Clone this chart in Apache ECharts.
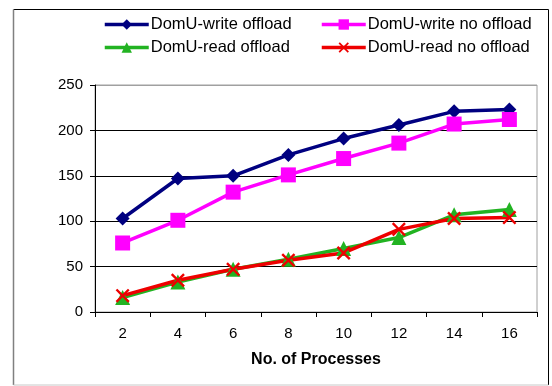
<!DOCTYPE html>
<html><head><meta charset="utf-8">
<script src="https://cdn.jsdelivr.net/npm/echarts@6/dist/echarts.min.js"></script>
<style>html,body{margin:0;padding:0;background:#fff}#c{width:552px;height:386px}</style>
</head><body><div id="c"></div>
<script>
const categories = ['2','4','6','8','10','12','14','16'];
const writeOffload = [103, 147, 150, 173, 191, 206, 221, 223];
const writeNoOffload = [76, 101, 132, 151, 169, 186, 207, 212];
const readOffload = [16, 33, 47, 58, 70, 82, 107, 113];
const readNoOffload = [18, 35, 47, 57, 65, 91, 103, 104];
const yTicks = [0, 50, 100, 150, 200, 250];
const names = ['DomU-write offload','DomU-write no offload','DomU-read offload','DomU-read no offload'];

const crossPath = 'path://M0,1.2L1.2,0L5,3.8L8.8,0L10,1.2L6.2,5L10,8.8L8.8,10L5,6.2L1.2,10L0,8.8L3.8,5Z';
const font = 'Liberation Sans, Arial, sans-serif';
const chart = echarts.init(document.getElementById('c'), null, {renderer:'canvas'});
function mkSeries(name, data, color, symbol, size){
  return {name, type:'line', data, symbol, symbolSize:size, showAllSymbol:true,
    lineStyle:{color, width:3.5}, itemStyle:{color, borderWidth:0}, animation:false};
}
function mkLegend(name, left, top){
  return {data:[name], left, top, itemWidth:44, itemHeight:13, itemGap:0,
    lineStyle:{width:3.5},
    textStyle:{fontFamily:font, fontSize:16.5, color:'#000', padding:[0,0,0,-3]}};
}
chart.setOption({
  backgroundColor:'#fff',
  animation:false,
  graphic:[
    {type:'line', shape:{x1:13.5,y1:9.5,x2:548.5,y2:9.5}, style:{stroke:'#000', lineWidth:1}, silent:true},
    {type:'line', shape:{x1:548.5,y1:9.5,x2:548.5,y2:385}, style:{stroke:'#000', lineWidth:1}, silent:true},
    {type:'line', shape:{x1:13.5,y1:9.5,x2:13.5,y2:385}, style:{stroke:'#808080', lineWidth:1.5}, silent:true},
    {type:'line', shape:{x1:13.5,y1:385,x2:548.5,y2:385}, style:{stroke:'#c8c8c8', lineWidth:1}, silent:true}
  ],
  legend:[mkLegend(names[0],98,11), mkLegend(names[1],315,11), mkLegend(names[2],98,34), mkLegend(names[3],315,34)],
  grid:{left:95, right:15, top:85, bottom:74, show:true, borderColor:'#a0a0a0', borderWidth:1},
  xAxis:{type:'category', data:categories, boundaryGap:true,
    axisLine:{lineStyle:{color:'#000', width:1}},
    axisTick:{show:true, length:5, lineStyle:{color:'#000'}},
    axisLabel:{fontFamily:font, fontSize:15, color:'#000', margin:14},
    name:'No. of Processes', nameLocation:'middle', nameGap:40,
    nameTextStyle:{fontFamily:font, fontSize:16, fontWeight:'bold', color:'#000'}},
  yAxis:{type:'value', min:yTicks[0], max:yTicks[yTicks.length-1], interval:50,
    axisLine:{show:true, lineStyle:{color:'#000', width:1}},
    axisTick:{show:true, length:5, lineStyle:{color:'#000'}},
    axisLabel:{fontFamily:font, fontSize:15, color:'#000', margin:12},
    splitLine:{show:true, lineStyle:{color:['#000','#000','#000','#000','#000','#a0a0a0'], width:1}}},
  series:[
    mkSeries(names[0], writeOffload, '#000080', 'diamond', 14),
    mkSeries(names[1], writeNoOffload, '#ff00ff', 'rect', 15),
    mkSeries(names[2], readOffload, '#22b322', 'triangle', 15),
    mkSeries(names[3], readNoOffload, '#ee0000', crossPath, 14)
  ]
});
</script></body></html>
